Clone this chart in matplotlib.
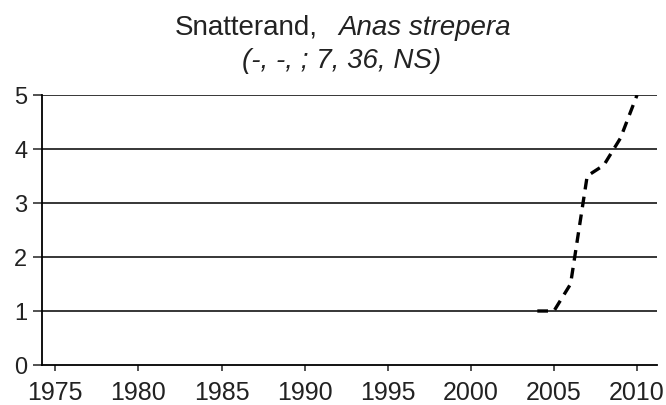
import matplotlib
matplotlib.use("Agg")
import matplotlib.pyplot as plt

plt.rcParams['font.family'] = ['Liberation Sans', 'DejaVu Sans']

# ------- Data --------- #
years = [2004, 2005, 2006, 2007, 2008, 2009, 2010]
values = [1.0, 1.0, 1.5, 3.5, 3.7, 4.2, 5.0]
xticks = [1975, 1980, 1985, 1990, 1995, 2000, 2005, 2010]
yticks = [0, 1, 2, 3, 4, 5]

fig = plt.figure(figsize=(6.66, 4.05), dpi=100)
ax = fig.add_axes([42/666, 40/405, 615/666, 270/405])

# ------- Grid ----------- #
for y in yticks[1:]:
    ax.axhline(y, color="black", linewidth=1.1, zorder=1)

ax.plot(years, values, color="black", linewidth=2.4, linestyle=(0, (3.2, 2.2)), zorder=3)

ax.set_xlim(1974.2, 2011.2)
ax.set_ylim(0, 5)
ax.set_xticks(xticks)
ax.set_yticks(yticks)
ax.tick_params(width=1.1, colors="#222222", labelcolor="#222222")
ax.tick_params(axis="x", length=4, pad=7.5, labelsize=18)
ax.tick_params(axis="y", length=6.5, pad=4, labelsize=17)
for s in ["top", "right"]:
    ax.spines[s].set_visible(False)
for s in ["left", "bottom"]:
    ax.spines[s].set_linewidth(1.3)
    ax.spines[s].set_color("black")

# ------- Title ---------- #
fig.text(318/666, 1 - 35/405, "Snatterand,", ha="right", va="baseline", fontsize=20, color="#222222")
fig.text(338/666, 1 - 35/405, "Anas strepera", ha="left", va="baseline", fontsize=20,
         style="italic", color="#222222")
fig.text(342/666, 1 - 68/405, "(-, -, ; 7, 36, NS)", ha="center", va="baseline", fontsize=20,
         style="italic", color="#222222")

fig.savefig("out.png", dpi=100)
